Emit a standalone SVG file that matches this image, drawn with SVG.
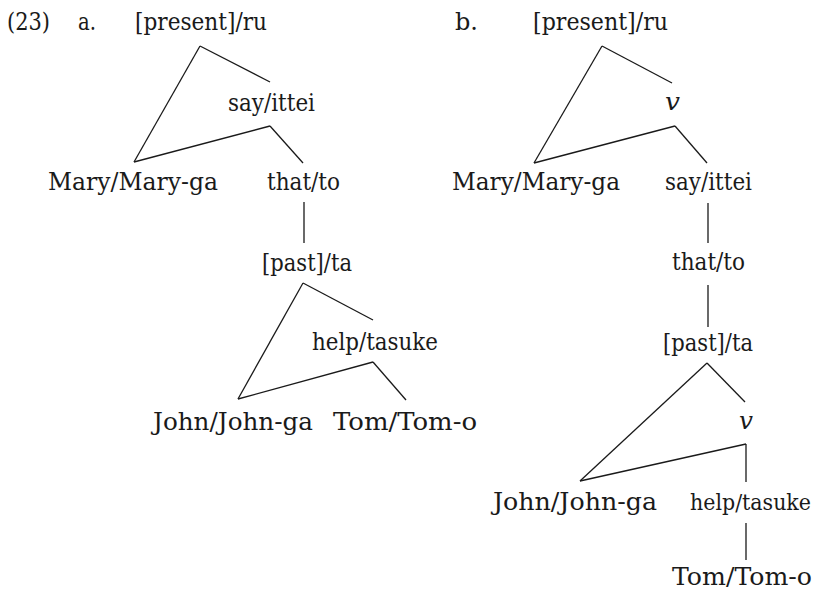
<svg xmlns="http://www.w3.org/2000/svg" width="819" height="592" viewBox="0 0 819 592">
  <style>
    text { font-family: "DejaVu Serif", "Liberation Serif", serif; font-size: 24px; fill: #1a1a1a; }
    .var { font-style: italic; }
    .tight { font-size: 21.5px; }
    .edges line { stroke: #1a1a1a; stroke-width: 1.3; fill: none; }
  </style>
  <rect width="819" height="592" fill="#ffffff"/>

  <!-- labels -->
  <g id="example-number"><text x="7" y="30" textLength="43" lengthAdjust="spacingAndGlyphs">(23)</text></g>
  <g id="label-a"><text x="78" y="30" textLength="18" lengthAdjust="spacingAndGlyphs">a.</text></g>
  <g id="label-b"><text x="455" y="30" textLength="23" lengthAdjust="spacingAndGlyphs">b.</text></g>

  <!-- tree (a) -->
  <g id="a-present"><text x="135" y="30" textLength="132" lengthAdjust="spacingAndGlyphs">[present]/ru</text></g>
  <g id="a-say"><text x="228" y="111" textLength="87" lengthAdjust="spacingAndGlyphs">say/ittei</text></g>
  <g id="a-mary"><text x="48" y="190" textLength="170" lengthAdjust="spacingAndGlyphs">Mary/Mary-ga</text></g>
  <g id="a-that"><text x="267" y="190" textLength="73" lengthAdjust="spacingAndGlyphs">that/to</text></g>
  <g id="a-past"><text x="262" y="271" textLength="90" lengthAdjust="spacingAndGlyphs">[past]/ta</text></g>
  <g id="a-help"><text x="312" y="350" textLength="126" lengthAdjust="spacingAndGlyphs">help/tasuke</text></g>
  <g id="a-john"><text x="153" y="430" textLength="160" lengthAdjust="spacingAndGlyphs">John/John-ga</text></g>
  <g id="a-tom"><text x="333" y="430" textLength="144" lengthAdjust="spacingAndGlyphs">Tom/Tom-o</text></g>

  <!-- tree (b) -->
  <g id="b-present"><text x="533" y="30" textLength="135" lengthAdjust="spacingAndGlyphs">[present]/ru</text></g>
  <g id="b-v1"><text class="var" x="665" y="110" textLength="15" lengthAdjust="spacingAndGlyphs">v</text></g>
  <g id="b-mary"><text x="452" y="190" textLength="168" lengthAdjust="spacingAndGlyphs">Mary/Mary-ga</text></g>
  <g id="b-say"><text x="665" y="190" textLength="87" lengthAdjust="spacingAndGlyphs">say/ittei</text></g>
  <g id="b-that"><text x="672" y="270" textLength="73" lengthAdjust="spacingAndGlyphs">that/to</text></g>
  <g id="b-past"><text x="663" y="351" textLength="90" lengthAdjust="spacingAndGlyphs">[past]/ta</text></g>
  <g id="b-v2"><text class="var" x="739" y="429" textLength="14" lengthAdjust="spacingAndGlyphs">v</text></g>
  <g id="b-john"><text x="493" y="510" textLength="164" lengthAdjust="spacingAndGlyphs">John/John-ga</text></g>
  <g id="b-help"><text class="tight" x="811" y="510" text-anchor="end" textLength="121" lengthAdjust="spacingAndGlyphs">help/tasuke</text></g>
  <g id="b-tom"><text x="672" y="585" textLength="140" lengthAdjust="spacingAndGlyphs">Tom/Tom-o</text></g>

  <!-- branches -->
  <g class="edges" id="edges">
    <!-- (a) -->
    <line x1="200" y1="46" x2="270" y2="82"/>
    <line x1="200" y1="46" x2="134" y2="162"/>
    <line x1="270" y1="126" x2="134" y2="162"/>
    <line x1="270" y1="126" x2="303" y2="163"/>
    <line x1="304" y1="202" x2="304" y2="243"/>
    <line x1="303" y1="283" x2="373" y2="320"/>
    <line x1="303" y1="283" x2="238" y2="399"/>
    <line x1="373" y1="362" x2="238" y2="399"/>
    <line x1="373" y1="362" x2="406" y2="400"/>
    <!-- (b) -->
    <line x1="602" y1="46" x2="672" y2="83"/>
    <line x1="602" y1="46" x2="534" y2="163"/>
    <line x1="675" y1="126" x2="534" y2="163"/>
    <line x1="675" y1="126" x2="707" y2="163"/>
    <line x1="708" y1="203" x2="708" y2="243"/>
    <line x1="708" y1="285" x2="708" y2="327"/>
    <line x1="707" y1="363" x2="745" y2="402"/>
    <line x1="707" y1="363" x2="580" y2="481"/>
    <line x1="746" y1="444" x2="580" y2="481"/>
    <line x1="746" y1="444" x2="746" y2="482"/>
    <line x1="746" y1="523" x2="746" y2="560"/>
  </g>
</svg>
